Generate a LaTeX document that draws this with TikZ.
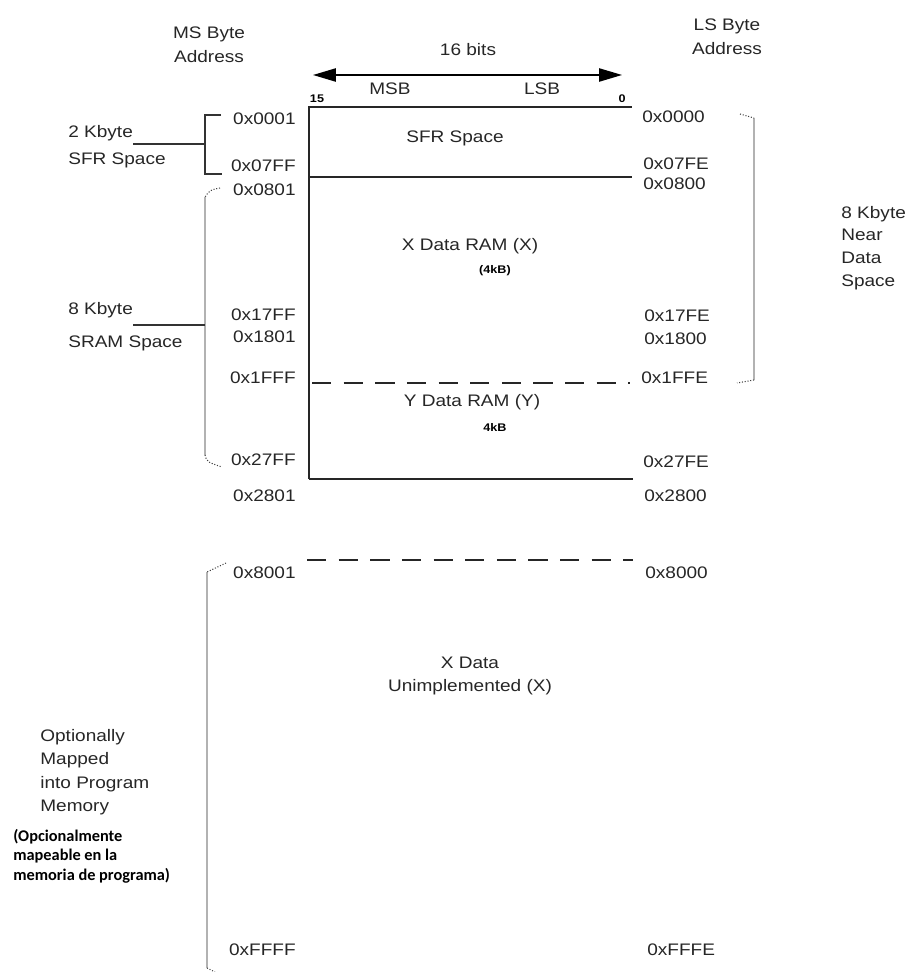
\documentclass[tikz,border=0pt]{standalone}
\usepackage{fontspec}
\setmainfont{Liberation Sans}[FakeStretch=1.14]
\newfontfamily\notefont{Carlito}
\usetikzlibrary{arrows.meta, positioning, calc}

\tikzset{
  lbl/.style={font=\fontsize{9.5}{13.5}\selectfont, text=black!85, inner sep=0pt},
  addr/.style={lbl},
  tinybold/.style={font=\fontsize{6.3}{8}\selectfont\bfseries, inner sep=0pt},
  note/.style={font=\fontsize{9.3}{11}\selectfont\notefont\bfseries, inner sep=0pt, align=left},
  memline/.style={line width=1pt, black!85},
  memdash/.style={line width=1pt, black!85, dash pattern=on 11pt off 7pt},
  brkt/.style={gray!60, line width=0.6pt},
  brktend/.style={black!75, line width=0.6pt, densely dotted},
}

\begin{document}
\begin{tikzpicture}[x=0.02cm, y=-0.02cm]
  \useasboundingbox (0,0) rectangle (906,972);
  % column headings
  \node[lbl, align=center] (msaddr) at (209,45) {MS Byte\\Address};
  \node[lbl, align=center] (lsaddr) at (727,37) {LS Byte\\Address};
  \node[lbl] (bits) at (468,50) {16 bits};
  \coordinate (arrl) at (313,75);
  \coordinate (arrr) at (622,75);
  \draw[line width=0.9pt, {Triangle[length=13pt,width=7.5pt]}-{Triangle[length=13pt,width=7.5pt]}] (arrl) -- (arrr);
  \node[lbl] (msb) at (390,89) {MSB};
  \node[lbl] (lsb) at (542,89) {LSB};
  \node[tinybold] (bit15) at (317,99) {15};
  \node[tinybold] (bit0) at (622,99) {0};

  % memory box
  \coordinate (tl) at (309,107);  \coordinate (tr) at (632,107);
  \coordinate (sl) at (309,177);  \coordinate (sr) at (632,177);
  \coordinate (yl) at (312,383);  \coordinate (yr) at (630,383);
  \coordinate (bl) at (309,479);  \coordinate (br) at (633,479);
  \coordinate (ul) at (307,560);  \coordinate (ur) at (633,560);
  \draw[memline] (bl) -- (tl) -- (tr);
  \draw[memline] (sl) -- (sr);
  \draw[memline] (bl) -- (br);
  \draw[memdash] (yl) -- (yr);
  \draw[memdash] (ul) -- (ur);

  % region names
  \node[lbl] (sfr) at (455,138) {SFR Space};
  \node[lbl] (xram) at (470,246) {X Data RAM (X)};
  \node[tinybold] (xkb) at (495,271) {(4kB)};
  \node[lbl] (yram) at (472,402) {Y Data RAM (Y)};
  \node[tinybold] (ykb) at (495,427) {4kB};
  \node[lbl, align=center] (unimp) at (470,676) {X Data\\Unimplemented (X)};

  % MS byte addresses
  \node[addr, anchor=east] (a0001) at (296,119) {0x0001};
  \node[addr, anchor=east] (a07ff) at (296,166) {0x07FF};
  \node[addr, anchor=east] (a0801) at (296,190) {0x0801};
  \node[addr, anchor=east] (a17ff) at (296,315) {0x17FF};
  \node[addr, anchor=east] (a1801) at (296,337) {0x1801};
  \node[addr, anchor=east] (a1fff) at (296,378) {0x1FFF};
  \node[addr, anchor=east] (a27ff) at (296,460) {0x27FF};
  \node[addr, anchor=east] (a2801) at (296,496) {0x2801};
  \node[addr, anchor=east] (a8001) at (296,573) {0x8001};
  \node[addr, anchor=east] (affff) at (296,950) {0xFFFF};

  % LS byte addresses
  \node[addr, anchor=west] (a0000) at (642,117) {0x0000};
  \node[addr, anchor=west] (a07fe) at (643,164) {0x07FE};
  \node[addr, anchor=west] (a0800) at (643,184) {0x0800};
  \node[addr, anchor=west] (a17fe) at (644,316) {0x17FE};
  \node[addr, anchor=west] (a1800) at (644,339) {0x1800};
  \node[addr, anchor=west] (a1ffe) at (641,378) {0x1FFE};
  \node[addr, anchor=west] (a27fe) at (643,462) {0x27FE};
  \node[addr, anchor=west] (a2800) at (644,496) {0x2800};
  \node[addr, anchor=west] (a8000) at (645,573) {0x8000};
  \node[addr, anchor=west] (afffe) at (647,950) {0xFFFE};

  % left side: SFR space
  \node[lbl, anchor=west] (kb2) at (68,133) {2 Kbyte};
  \node[lbl, anchor=west] (sfrsp) at (68,160) {SFR Space};
  \coordinate (sfrtop) at (205,115);
  \coordinate (sfrbot) at (205,174);
  \coordinate (sfrmid) at (205,144);
  \draw[black!80, line width=0.7pt] ($(sfrtop)+(16,0)$) -- (sfrtop) -- (sfrbot) -- ++(17,0);
  \draw[black!80, line width=0.7pt] (kb2.east |- sfrmid) -- (sfrmid);

  % left side: SRAM space
  \node[lbl, anchor=west] (kb8) at (68,310) {8 Kbyte};
  \node[lbl, anchor=west] (sramsp) at (68,343) {SRAM Space};
  \coordinate (sramtop) at (205,197);
  \coordinate (srambot) at (205,455);
  \coordinate (srammid) at (205,325);
  \draw[brkt] (sramtop) -- (srambot);
  \draw[brktend] (220,188) .. controls (210,190) .. (sramtop);
  \draw[brktend] (srambot) .. controls (207,462) .. (222,467);
  \draw[black!80, line width=0.7pt] (kb8.east |- srammid) -- (srammid);

  % right side: near data space
  \node[lbl, anchor=west, align=left, font=\fontsize{9.5}{13}\selectfont] (near) at (841,248) {8 Kbyte\\Near\\Data\\Space};
  \coordinate (neartop) at (754,118);
  \coordinate (nearbot) at (754,380);
  \draw[brkt] (neartop) -- (nearbot);
  \draw[brktend] (740,114) -- (neartop);
  \draw[brktend] (nearbot) -- (737,383);

  % left side: program memory
  \node[lbl, anchor=west, align=left, font=\fontsize{9.5}{13.4}\selectfont] (optmap) at (40,772) {Optionally\\Mapped\\into Program\\Memory};
  \node[note, anchor=north west] (opcnote) at (13,829) {(Opcionalmente\\mapeable en la\\memoria de programa)};
  \coordinate (progtop) at (207,572);
  \coordinate (progbot) at (207,968);
  \draw[brkt] (progtop) -- (progbot);
  \draw[brktend] (226,563) -- (progtop);
  \draw[brktend] (progbot) -- (215,972);
\end{tikzpicture}
\end{document}
